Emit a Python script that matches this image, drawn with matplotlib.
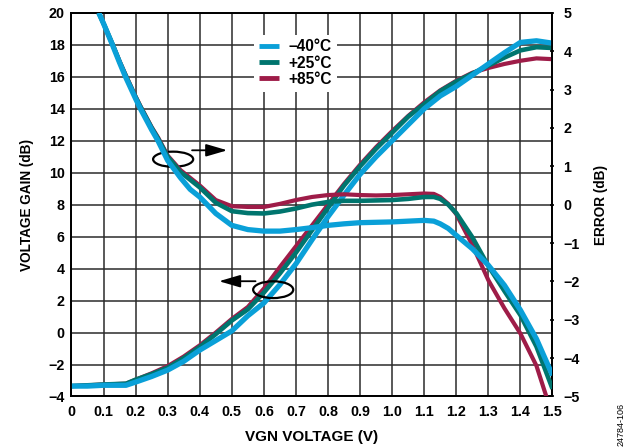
import matplotlib
matplotlib.use("Agg")
import matplotlib.pyplot as plt
from matplotlib.patches import Ellipse

plt.rcParams['font.family'] = ['Liberation Sans', 'DejaVu Sans']

# ---------------- data ----------------
labels = ["\u201340\u00b0C", "+25\u00b0C", "+85\u00b0C"]
colors = ["#0aa0d8", "#00756e", "#9e1c48"]

gain_x = [0.00, 0.05, 0.10, 0.17, 0.20, 0.25, 0.30, 0.35, 0.40, 0.45, 0.50,
          0.55, 0.60, 0.65, 0.70, 0.75, 0.80, 0.85, 0.90, 0.95, 1.00, 1.05,
          1.10, 1.15, 1.20, 1.25, 1.30, 1.35, 1.40, 1.45, 1.50]
gain_m40 = [-3.35, -3.35, -3.3, -3.3, -3.1, -2.75, -2.35, -1.8, -1.1, -0.5, 0.1,
            1.05, 1.85, 3.0, 4.3, 5.8, 7.25, 8.6, 9.9, 11.0, 12.0, 13.0,
            14.0, 14.8, 15.4, 16.1, 16.8, 17.5, 18.15, 18.25, 18.1]
gain_p25 = [-3.35, -3.3, -3.25, -3.2, -2.95, -2.6, -2.2, -1.6, -0.9, -0.1, 0.75,
            1.45, 2.5, 3.7, 5.0, 6.4, 7.8, 9.2, 10.4, 11.5, 12.5, 13.5,
            14.3, 15.1, 15.7, 16.2, 16.7, 17.2, 17.65, 17.85, 17.8]
gain_p85 = [-3.35, -3.3, -3.25, -3.2, -2.95, -2.55, -2.1, -1.5, -0.8, 0.0, 0.85,
            1.6, 2.75, 4.1, 5.4, 6.7, 8.0, 9.3, 10.5, 11.6, 12.6, 13.55,
            14.4, 15.15, 15.75, 16.25, 16.55, 16.8, 17.0, 17.15, 17.1]

err_x = [0.085, 0.10, 0.127, 0.15, 0.168, 0.20, 0.215, 0.25, 0.27, 0.30, 0.34,
         0.37, 0.40, 0.45, 0.50, 0.55, 0.60, 0.65, 0.70, 0.75, 0.80, 0.85,
         0.90, 0.95, 1.00, 1.05, 1.10, 1.13, 1.15, 1.175, 1.20, 1.25, 1.30, 1.35,
         1.40, 1.45, 1.50]
err_m40 = [5.0, 4.72, 4.18, 3.7, 3.34, 2.76, 2.5, 1.95, 1.66, 1.15, 0.7,
           0.4, 0.2, -0.23, -0.54, -0.65, -0.69, -0.69, -0.65, -0.6, -0.54, -0.5,
           -0.47, -0.46, -0.45, -0.43, -0.41, -0.43, -0.5, -0.62, -0.8, -1.15, -1.58, -2.1,
           -2.75, -3.5, -4.45]
err_p25 = [5.0, 4.72, 4.2, 3.72, 3.38, 2.8, 2.55, 2.0, 1.72, 1.25, 0.85,
           0.65, 0.45, 0.05, -0.17, -0.22, -0.23, -0.18, -0.1, 0.0, 0.07, 0.1,
           0.1, 0.11, 0.12, 0.15, 0.2, 0.2, 0.15, 0.0, -0.22, -0.85, -1.6, -2.25,
           -2.88, -3.7, -4.8]
err_p85 = [5.0, 4.72, 4.2, 3.74, 3.4, 2.82, 2.57, 2.02, 1.75, 1.28, 0.9,
           0.7, 0.5, 0.12, -0.04, -0.06, -0.06, 0.02, 0.12, 0.2, 0.25, 0.27,
           0.25, 0.24, 0.25, 0.27, 0.29, 0.28, 0.2, 0.02, -0.25, -1.05, -1.97, -2.7,
           -3.36, -4.2, -5.5]

x_ticks = [0, 0.1, 0.2, 0.3, 0.4, 0.5, 0.6, 0.7, 0.8, 0.9, 1.0, 1.1, 1.2, 1.3, 1.4, 1.5]
x_ticklabels = ["0", "0.1", "0.2", "0.3", "0.4", "0.5", "0.6", "0.7", "0.8", "0.9",
                "1.0", "1.1", "1.2", "1.3", "1.4", "1.5"]
gain_ticks = list(range(-4, 21, 2))
err_ticks = list(range(-5, 6, 1))

# ---------------- figure ----------------
fig = plt.figure(figsize=(6.36, 4.48), dpi=100)
ax = fig.add_axes([0.1124, 0.115, 0.7563, 0.8564])
ax2 = ax.twinx()

gains = [gain_m40, gain_p25, gain_p85]
errs = [err_m40, err_p25, err_p85]
lws = [3.8, 3.3, 3.0]
order = [2, 1, 0]
handles = [None, None, None]
for i in order:
    ax.plot(gain_x, gains[i], color=colors[i], lw=lws[i], solid_capstyle='butt',
            solid_joinstyle='round', zorder=3 + (2 - i))
    h, = ax2.plot(err_x, errs[i], color=colors[i], lw=lws[i], solid_capstyle='butt',
                  solid_joinstyle='round', zorder=3 + (2 - i))
    handles[i] = h

ax.set_xlim(0, 1.5)
ax.set_ylim(-4, 20)
ax2.set_ylim(-5, 5)
ax.set_xticks(x_ticks)
ax.set_xticklabels(x_ticklabels)
ax.set_yticks(gain_ticks)
ax2.set_yticks(err_ticks)

ax.grid(True, color="#2b2b2b", lw=1.1, zorder=1)
ax.set_axisbelow(True)

for a in (ax, ax2):
    for s in a.spines.values():
        s.set_linewidth(1.3)
        s.set_color("black")

TS = 10.3
ax.tick_params(axis='both', length=0, labelsize=TS)
ax.tick_params(axis='x', pad=6)
ax.tick_params(axis='y', pad=5)
for lab in ax.get_xticklabels() + ax.get_yticklabels():
    lab.set_fontweight('bold')
ax2.tick_params(axis='y', length=3.5, width=1.2, direction='inout', pad=6, labelsize=TS)
for lab in ax2.get_yticklabels():
    lab.set_fontweight('bold')

ax.set_xlabel("VGN VOLTAGE (V)", fontsize=11, fontweight='bold', labelpad=8)
ax.set_ylabel("VOLTAGE GAIN (dB)", fontsize=9.8, fontweight='bold', labelpad=10)
ax2.set_ylabel("ERROR (dB)", fontsize=9.8, fontweight='bold', labelpad=10)

# annotations: ellipses + arrows
ax.add_patch(Ellipse((0.317, 10.84), 0.125, 0.95, fill=False, ec='black', lw=1.6, zorder=10))
ax.annotate("", xy=(0.486, 11.4), xytext=(0.376, 11.4),
            arrowprops=dict(arrowstyle='-|>,head_length=1.3,head_width=0.38', color='black', lw=1.3,
                            shrinkA=0, shrinkB=0), zorder=10)
ax.add_patch(Ellipse((0.629, 2.68), 0.125, 1.05, fill=False, ec='black', lw=1.6, zorder=10))
ax.annotate("", xy=(0.460, 3.21), xytext=(0.574, 3.21),
            arrowprops=dict(arrowstyle='-|>,head_length=1.3,head_width=0.38', color='black', lw=1.3,
                            shrinkA=0, shrinkB=0), zorder=10)

leg = ax2.legend(handles, labels, loc='upper left', bbox_to_anchor=(0.364, 0.963),
                 frameon=True, facecolor='white', edgecolor='none', framealpha=1,
                 fancybox=False, handlelength=1.3, handletextpad=0.6, labelspacing=0.08,
                 borderpad=0.3, prop={'weight': 'bold', 'size': 11.2})
for l in leg.get_lines():
    l.set_linewidth(3.5)

fig.text(0.976, 0.004, "24784-106", rotation=90, fontsize=6.5,
         ha='center', va='bottom')

fig.savefig("out.png", dpi=100)
